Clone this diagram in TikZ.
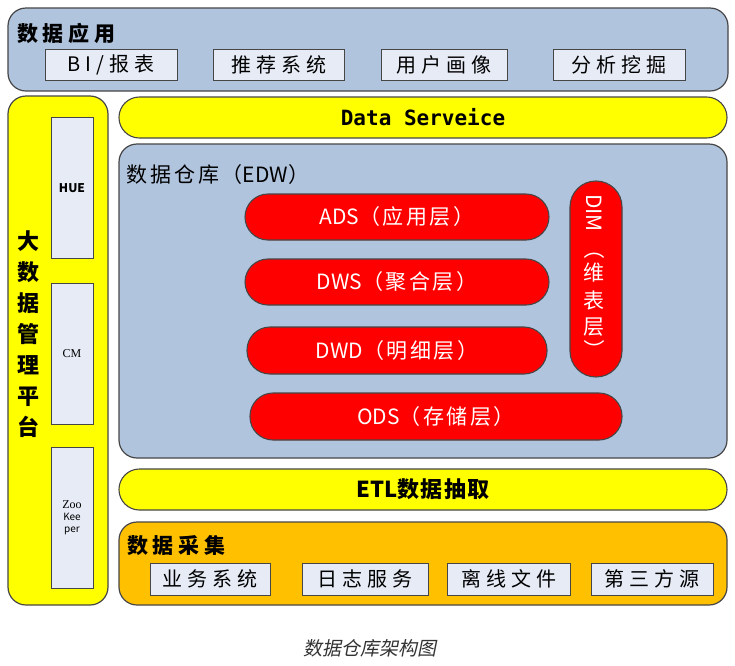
\documentclass[tikz,border=0pt]{standalone}
\usepackage{fontspec}
\setmainfont{Noto Sans CJK SC}
\newfontfamily\cjkit{Noto Sans CJK SC}[FakeSlant=0.2]
\newfontfamily\monofam{DejaVu Sans Mono}
\newfontfamily\serifam{Liberation Serif}
\newcommand{\tightlat}[1]{{\addfontfeature{LetterSpace=0}#1}}
\definecolor{steel}{RGB}{176,196,222}
\definecolor{lav}{RGB}{230,235,246}
\definecolor{ylw}{RGB}{255,255,0}
\definecolor{org}{RGB}{255,192,0}
\definecolor{rd}{RGB}{255,0,0}
\definecolor{edgec}{RGB}{70,70,70}
\tikzset{
  panel/.style={draw=edgec, line width=1.2pt, rounded corners=18pt, inner sep=0pt},
  item/.style={draw=edgec, line width=1pt, fill=lav, inner sep=0pt,
     font=\fontsize{20}{20}\selectfont\addfontfeature{LetterSpace=25}},
  pillbar/.style={draw=edgec, line width=1.1pt, fill=ylw, rounded corners=20.4pt, inner sep=0pt,
     minimum width=608pt, minimum height=41pt},
  layer/.style={draw=edgec, line width=1.1pt, fill=rd, text=white, rounded corners=23pt, inner sep=0pt,
     font=\fontsize{21}{21}\selectfont\addfontfeature{LetterSpace=12}},
  tool/.style={draw=edgec, line width=1pt, fill=lav, inner sep=0pt, minimum width=42pt, minimum height=141pt},
  title/.style={anchor=west, inner sep=0pt, font=\fontsize{21}{21}\selectfont\bfseries\addfontfeature{LetterSpace=22}},
  dimtxt/.style={text=white, inner sep=0pt, font=\fontsize{21}{21}\selectfont},
}
\begin{document}
\begin{tikzpicture}[x=1pt,y=-1pt]
\useasboundingbox (0,0) rectangle (735,665);
\fill[white] (0,0) rectangle (735,665);

% Data application
\node[panel, fill=steel, minimum width=720pt, minimum height=83pt] (app) at (368,49.5) {};
\node[title] (apptitle) at (17,33) {数据应用};
\node[item, minimum width=132pt, minimum height=31pt] (bi) at (111,64.5) {BI/报表};
\node[item, minimum width=131pt, minimum height=31pt] (rec) at (278.5,64.5) {推荐系统};
\node[item, minimum width=126pt, minimum height=31pt] (user) at (444,64.5) {用户画像};
\node[item, minimum width=132pt, minimum height=31pt] (mine) at (619,64.5) {分析挖掘};

% Management platform
\node[panel, fill=ylw, minimum width=100pt, minimum height=509pt] (mgmt) at (58,350.5) {};
\node[tool] (hue) at (72,188) {\fontsize{12}{12}\selectfont\bfseries HUE};
\node[tool] (cm) at (72,353.5) {\serifam\fontsize{12}{12}\selectfont CM};
\node[tool, align=center] (zk) at (72,517.5) {\serifam\fontsize{12}{18}\selectfont Zoo\\Kee\\per};
\node[align=center, inner sep=0pt, font=\fontsize{22}{31}\selectfont\bfseries] (mgmttxt) at (28,334)
  {大\\数\\据\\管\\理\\平\\台};

% Data service
\node[pillbar] (svc) at (423,117.5) {\monofam\bfseries\fontsize{21}{21}\selectfont Data Serveice};

% EDW
\node[panel, fill=steel, minimum width=608pt, minimum height=314pt] (edw) at (423,301) {};
\node[title, font=\fontsize{21}{21}\selectfont\addfontfeature{LetterSpace=14}] (edwtitle) at (126,175) {数据仓库（\tightlat{EDW}）};
\node[layer, minimum width=304pt, minimum height=46pt] (ads) at (397,217) {\tightlat{ADS}（应用层）};
\node[layer, minimum width=304pt, minimum height=46pt] (dws) at (397,282) {\tightlat{DWS}（聚合层）};
\node[layer, minimum width=300pt, minimum height=47pt] (dwd) at (397,350.5) {\tightlat{DWD}（明细层）};
\node[layer, minimum width=372pt, minimum height=47pt] (ods) at (436,416.5) {\tightlat{ODS}（存储层）};
\node[draw=edgec, line width=1.1pt, fill=rd, rounded corners=25.9pt, inner sep=0pt,
      minimum width=52pt, minimum height=196pt] (dim) at (596,279) {};
\node[dimtxt, rotate=-90] (dimA) at (594,213) {DIM};
\node[dimtxt, rotate=-90] (dimB) at (594,249) {（};
\node[dimtxt] (dimC) at (594,273) {维};
\node[dimtxt] (dimD) at (594,300) {表};
\node[dimtxt] (dimE) at (594,327) {层};
\node[dimtxt, rotate=-90] (dimF) at (594,350) {）};

% ETL
\node[pillbar] (etl) at (423,489.5) {\fontsize{22}{22}\selectfont\bfseries\addfontfeature{LetterSpace=6}\tightlat{ETL}数据抽取};

% Data collection
\node[panel, fill=org, minimum width=608pt, minimum height=83pt] (coll) at (423,563.5) {};
\node[title] (colltitle) at (127,546) {数据采集};
\node[item, minimum width=120pt, minimum height=32pt] (biz) at (210,579) {业务系统};
\node[item, minimum width=126pt, minimum height=32pt] (log) at (365,579) {日志服务};
\node[item, minimum width=123pt, minimum height=32pt] (off) at (508.5,579) {离线文件};
\node[item, minimum width=122pt, minimum height=32pt] (third) at (652,579) {第三方源};

% caption
\node[inner sep=0pt, text=black!80, font=\cjkit\fontsize{19}{19}\selectfont] (cap) at (370,648) {数据仓库架构图};
\end{tikzpicture}
\end{document}
